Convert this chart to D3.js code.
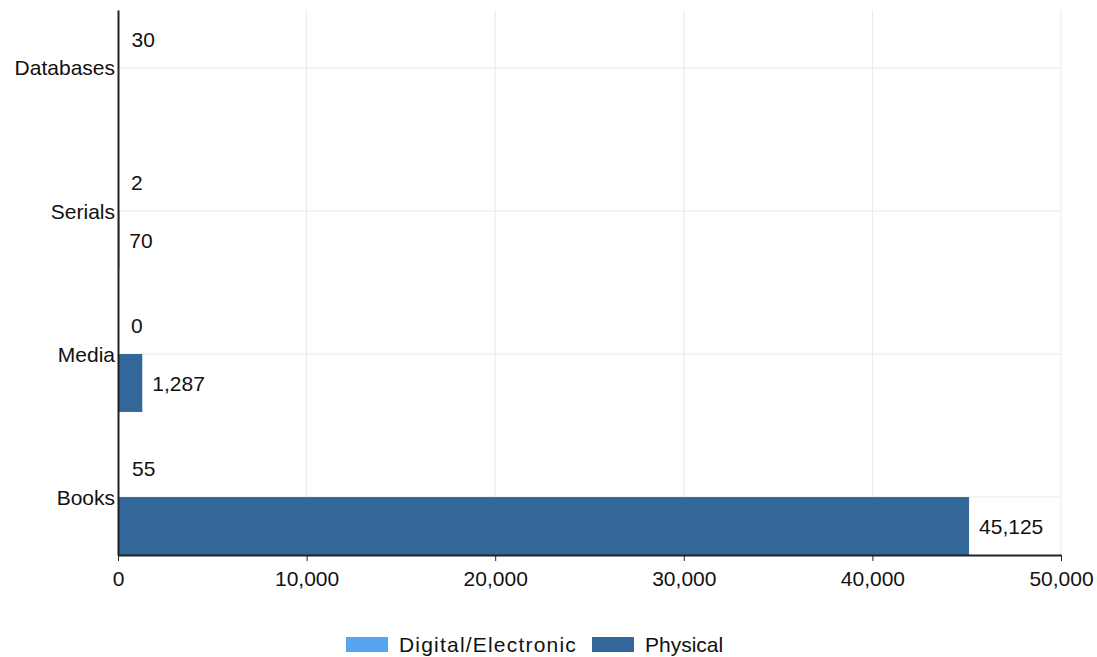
<!DOCTYPE html>
<html>
<head>
<meta charset="utf-8">
<script src="https://cdn.jsdelivr.net/npm/d3@7"></script>
<style>
body { margin: 0; background: #fff; }
text { font-family: "Liberation Sans", Arial, sans-serif; fill: #111; }
</style>
</head>
<body>
<script>
// chart data
var categories = ["Databases", "Serials", "Media", "Books"];
var seriesNames = ["Digital/Electronic", "Physical"];
var digitalValues = [30, 2, 0, 55];
var physicalValues = [null, 70, 1287, 45125];
var xTicks = [0, 10000, 20000, 30000, 40000, 50000];
var seriesColors = ["#55a6ee", "#336699"];

var W = 1097, H = 657;
var plot = {left: 118, right: 1061, top: 10, bottom: 555};
var fs = "21px";

var svg = d3.select("body").append("svg")
	.attr("width", W)
	.attr("height", H);

var x = d3.scaleLinear().domain([0, 50000]).range([plot.left, plot.right]);

var y = d3.scaleBand().domain(categories).range([plot.top, plot.bottom])
	.paddingInner(0.19).paddingOuter(0);

var ySub = d3.scaleBand().domain(seriesNames).range([0, y.bandwidth()]);

var fmt = d3.format(",");

// gridlines
svg.selectAll(".vgrid").data(xTicks.slice(1))
	.enter().append("line")
	.attr("x1", function (d) { return x(d); })
	.attr("x2", function (d) { return x(d); })
	.attr("y1", plot.top).attr("y2", plot.bottom)
	.style("stroke", "#e9e9e9");

svg.selectAll(".hgrid").data(categories)
	.enter().append("line")
	.attr("x1", plot.left).attr("x2", plot.right)
	.attr("y1", function (d) { return y(d) + y.bandwidth() / 2; })
	.attr("y2", function (d) { return y(d) + y.bandwidth() / 2; })
	.style("stroke", "#e9e9e9");

// build rows from arrays
var rows = [];
categories.forEach(function (c, i) {
	rows.push({cat: c, s: seriesNames[0], v: digitalValues[i], col: seriesColors[0]});
	rows.push({cat: c, s: seriesNames[1], v: physicalValues[i], col: seriesColors[1]});
});
rows = rows.filter(function (d) { return d.v !== null; });

svg.selectAll(".bar").data(rows)
	.enter().append("rect")
	.attr("x", x(0))
	.attr("y", function (d) { return y(d.cat) + ySub(d.s); })
	.attr("width", function (d) { return x(d.v) - x(0); })
	.attr("height", ySub.bandwidth())
	.style("fill", function (d) { return d.col; });

svg.selectAll(".lbl").data(rows)
	.enter().append("text")
	.attr("x", function (d) { return x(d.v) + (d.s == seriesNames[0] ? 13 : 10); })
	.attr("y", function (d) { return y(d.cat) + ySub(d.s) + ySub.bandwidth() / 2; })
	.attr("dy", "0.36em")
	.style("font-size", fs)
	.text(function (d) { return fmt(d.v); });

// x axis
var xAxis = svg.append("g")
	.attr("transform", "translate(0," + plot.bottom + ")")
	.call(d3.axisBottom(x).tickValues(xTicks).tickFormat(fmt).tickSize(6).tickSizeOuter(0));
xAxis.select(".domain").style("stroke", "#222").style("stroke-width", 2);
xAxis.selectAll(".tick line").style("stroke", "#222");
xAxis.selectAll("text").style("font-size", fs).attr("y", 16).attr("dy", "0.71em");

// y axis
var yAxis = svg.append("g")
	.attr("transform", "translate(" + plot.left + ",0)")
	.call(d3.axisLeft(y).tickSize(0).tickPadding(3));
yAxis.select(".domain").style("stroke", "#222").style("stroke-width", 2);
yAxis.selectAll("text").style("font-size", fs)
	.attr("dy", "0.36em");

// legend
var legend = svg.append("g").attr("transform", "translate(346,637)");
var legX = [0, 246];
seriesNames.forEach(function (s, i) {
	legend.append("rect")
		.attr("x", legX[i]).attr("y", 0)
		.attr("width", 42).attr("height", 15)
		.style("fill", seriesColors[i]);
	legend.append("text")
		.attr("x", legX[i] + 53).attr("y", 7)
		.attr("dy", "0.36em")
		.style("font-size", fs)
		.style("letter-spacing", i == 0 ? "1.2px" : "0px")
		.text(s);
});
</script>
</body>
</html>
